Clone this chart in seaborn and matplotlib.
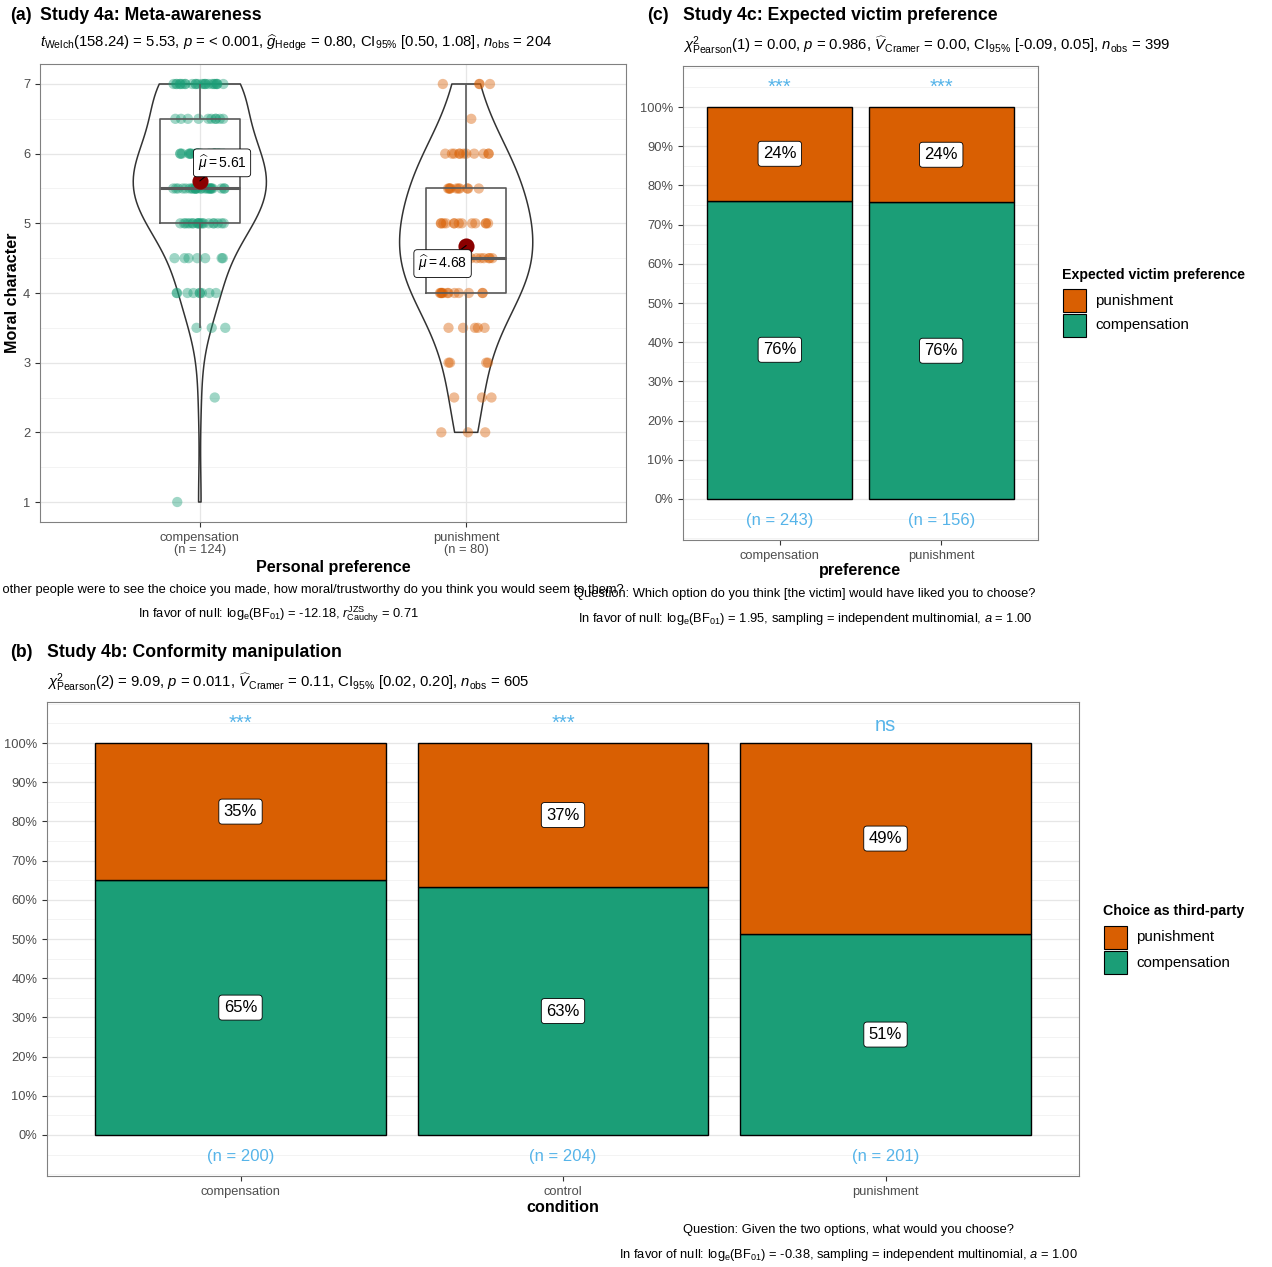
import numpy as np
import pandas as pd
import seaborn as sns
import matplotlib.pyplot as plt
from matplotlib.patches import Rectangle
from matplotlib.ticker import PercentFormatter, MultipleLocator

# ---------------- data ----------------
# Study 4a: moral character rating by personal preference
pref_levels = ["compensation", "punishment"]
score_levels = [1, 1.5, 2, 2.5, 3, 3.5, 4, 4.5, 5, 5.5, 6, 6.5, 7]
comp_counts = [1, 0, 0, 1, 0, 3, 9, 7, 20, 26, 23, 10, 24]
pun_counts = [0, 0, 3, 3, 4, 5, 12, 14, 13, 10, 11, 1, 4]

# Study 4c: expected victim preference by own preference
victim_x_levels = ["compensation", "punishment"]
victim_comp = [185, 118]
victim_pun = [58, 38]
victim_sig = ["***", "***"]

# Study 4b: third-party choice by conformity condition
cond_levels = ["compensation", "control", "punishment"]
choice_comp = [130, 129, 103]
choice_pun = [70, 75, 98]
cond_sig = ["***", "***", "ns"]

COL_COMP = "#1B9E77"
COL_PUN = "#D95F02"
COL_N = "#56B4E9"

# ---------------- style ----------------
sns.set_theme(style="white")
plt.rcParams["font.family"] = ["Liberation Sans", "DejaVu Sans"]
plt.rcParams["text.color"] = "black"
plt.rcParams["mathtext.fontset"] = "custom"
plt.rcParams["mathtext.rm"] = "Liberation Sans"
plt.rcParams["mathtext.it"] = "Liberation Sans:italic"
plt.rcParams["mathtext.bf"] = "Liberation Sans:bold"
plt.rcParams["mathtext.sf"] = "Liberation Sans"

W, H = 1272, 1267
fig = plt.figure(figsize=(W / 100, H / 100), dpi=100)
fig.patch.set_facecolor("white")


def fx(x):
    return x / W


def fy(y):
    return 1 - y / H


def px_axes(left, top, right, bottom):
    return fig.add_axes([left / W, 1 - bottom / H, (right - left) / W, (bottom - top) / H])


def gg_frame(ax, minor_step):
    ax.set_facecolor("white")
    for s in ax.spines.values():
        s.set_visible(True)
        s.set_color("#808080")
        s.set_linewidth(0.8)
    ax.tick_params(which="major", colors="#333333", labelcolor="#4d4d4d",
                   labelsize=9.3, length=3.5, width=0.8, direction="out",
                   bottom=True, left=True)
    ax.yaxis.set_minor_locator(MultipleLocator(minor_step))
    ax.tick_params(which="minor", length=0)
    ax.set_axisbelow(True)
    ax.grid(False)
    ax.grid(which="major", axis="y", color="#e6e6e6", lw=0.9)
    ax.grid(which="minor", axis="y", color="#f1f1f1", lw=0.6)
    ax.set_xlabel("")
    ax.set_ylabel("")


def titles(tag, tag_x, title, title_x, y, subtitle, sub_y):
    fig.text(fx(tag_x), fy(y), tag, ha="left", va="center", fontsize=12.7, fontweight="bold")
    fig.text(fx(title_x), fy(y), title, ha="left", va="center", fontsize=12.7, fontweight="bold")
    fig.text(fx(title_x), fy(sub_y), subtitle, ha="left", va="center", fontsize=10.7)


def caption(cx, y1, line1, y2, line2):
    fig.text(fx(cx), fy(y1), line1, ha="center", va="center", fontsize=9.3)
    fig.text(fx(cx), fy(y2), line2, ha="center", va="center", fontsize=9.3)


# ---------------- (a) violin / box / points ----------------
df_a = pd.DataFrame({
    "pref": ["compensation"] * sum(comp_counts) + ["punishment"] * sum(pun_counts),
    "score": np.concatenate([np.repeat(score_levels, comp_counts),
                             np.repeat(score_levels, pun_counts)]),
})

ax_a = px_axes(40, 64, 626, 522)
np.random.seed(7)
sns.stripplot(data=df_a, x="pref", y="score", order=pref_levels, hue="pref",
              hue_order=pref_levels, palette={"compensation": COL_COMP, "punishment": COL_PUN},
              jitter=0.1, size=7.4, alpha=0.42, linewidth=0, legend=False, ax=ax_a, zorder=2)
sns.boxplot(data=df_a, x="pref", y="score", order=pref_levels, width=0.3, fill=False,
            color="#5a5a5a", showfliers=False, showcaps=False, linewidth=1.2,
            medianprops={"linewidth": 2.2}, ax=ax_a)
sns.violinplot(data=df_a, x="pref", y="score", order=pref_levels, cut=0, inner=None,
               fill=False, color="#333333", linewidth=1.1, density_norm="width",
               width=0.5, bw_adjust=1.2, ax=ax_a)

means = df_a.groupby("pref")["score"].mean().reindex(pref_levels)
ax_a.scatter(range(len(pref_levels)), means.values, s=135, color="#8B0000", zorder=6, linewidths=0)
label_offsets = [(16, 13), (-17, -13)]
for i, (m, off) in enumerate(zip(means.values, label_offsets)):
    ax_a.annotate(r"$\widehat{\mu}=$" + f"{m:.2f}", xy=(i, m), xytext=off,
                  textcoords="offset points", ha="center", va="center", fontsize=10,
                  bbox=dict(boxstyle="round,pad=0.3,rounding_size=0.25", fc="white", ec="black", lw=0.6),
                  arrowprops=dict(arrowstyle="-", color="black", lw=0.8, shrinkA=0, shrinkB=0),
                  zorder=7)

gg_frame(ax_a, 0.5)
ax_a.set_xlim(-0.6, 1.6)
ax_a.set_ylim(0.713, 7.287)
ax_a.set_yticks(range(1, 8))
ax_a.grid(which="major", axis="x", color="#e6e6e6", lw=0.9)
n_a = [sum(comp_counts), sum(pun_counts)]
ax_a.set_xticks(range(len(pref_levels)))
ax_a.set_xticklabels([f"{lv}\n(n = {n})" for lv, n in zip(pref_levels, n_a)], linespacing=1.0)

titles("(a)", 10, "Study 4a: Meta-awareness", 40, 15,
       r"$t_{\mathrm{Welch}}$(158.24) = 5.53, $p$ = < 0.001, $\widehat{g}_{\mathrm{Hedge}}$ = 0.80, "
       r"CI$_{95\%}$ [0.50, 1.08], $n_{\mathrm{obs}}$ = 204", 43)
fig.text(fx(333), fy(567), "Personal preference", ha="center", va="center", fontsize=11.6, fontweight="bold")
fig.text(fx(13), fy(293), "Moral character", ha="center", va="center", rotation=90,
         fontsize=11.6, fontweight="bold")
caption(278, 590, "Question: If other people were to see the choice you made, how moral/trustworthy "
        "do you think you would seem to them?",
        615, r"In favor of null: log$_{\mathrm{e}}$(BF$_{01}$) = -12.18, "
        r"$r_{\mathrm{Cauchy}}^{\mathrm{JZS}}$ = 0.71")


# ---------------- stacked proportion bars ----------------
def stacked_panel(ax, levels, comp, pun, sig):
    df = pd.DataFrame({
        "x": list(levels) * 2,
        "choice": ["punishment"] * len(levels) + ["compensation"] * len(levels),
        "count": list(pun) + list(comp),
    })
    sns.histplot(data=df, x="x", hue="choice", weights="count", multiple="fill",
                 discrete=True, shrink=0.9, hue_order=["punishment", "compensation"],
                 palette={"punishment": COL_PUN, "compensation": COL_COMP},
                 alpha=1, edgecolor="black", linewidth=1.0, legend=False, ax=ax)
    gg_frame(ax, 0.05)
    ax.set_xlim(-0.6, len(levels) - 0.4)
    ax.set_ylim(-0.1046, 1.1046)
    ax.set_yticks(np.arange(0, 1.01, 0.1))
    ax.yaxis.set_major_formatter(PercentFormatter(1, decimals=0))
    ax.set_xticks(range(len(levels)))
    ax.set_xticklabels(levels)
    box = dict(boxstyle="round,pad=0.3,rounding_size=0.2", fc="white", ec="black", lw=0.6)
    for i, (c, p, s) in enumerate(zip(comp, pun, sig)):
        n = c + p
        pc, pp = c / n, p / n
        ax.text(i, pc / 2, f"{round(100 * pc)}%", ha="center", va="center", fontsize=12, bbox=box)
        ax.text(i, pc + pp / 2, f"{round(100 * pp)}%", ha="center", va="center", fontsize=12, bbox=box)
        ax.text(i, -0.056, f"(n = {n})", ha="center", va="center", fontsize=12, color=COL_N)
        ax.text(i, 1.045 if s == "ns" else 1.051, s, ha="center", va="center",
                fontsize=14.5, color=COL_N)


def legend_block(title, x, y_title, key_top):
    # title, then two 23 px keys stacked with a small gap
    fig.text(fx(x), fy(y_title), title, ha="left", va="center", fontsize=10.2, fontweight="bold")
    entries = [("punishment", COL_PUN), ("compensation", COL_COMP)]
    for k, (lab, col) in enumerate(entries):
        top = key_top + k * 25
        fig.patches.append(Rectangle((fx(x + 1), fy(top + 23)), 23 / W, 23 / H,
                                     transform=fig.transFigure, facecolor=col,
                                     edgecolor="black", lw=0.8))
        fig.text(fx(x + 33), fy(top + 11.5), lab, ha="left", va="center", fontsize=10.9)


# (c) Study 4c
ax_c = px_axes(683, 66, 1038, 540)
stacked_panel(ax_c, victim_x_levels, victim_comp, victim_pun, victim_sig)
titles("(c)", 647, "Study 4c: Expected victim preference", 683, 15,
       r"$\chi^2_{\mathrm{Pearson}}$(1) = 0.00, $p$ = 0.986, $\widehat{V}_{\mathrm{Cramer}}$ = 0.00, "
       r"CI$_{95\%}$ [-0.09, 0.05], $n_{\mathrm{obs}}$ = 399", 45)
fig.text(fx(860), fy(571), "preference", ha="center", va="center", fontsize=11.6, fontweight="bold")
caption(805, 594, "Question: Which option do you think [the victim] would have liked you to choose?",
        619, r"In favor of null: log$_{\mathrm{e}}$(BF$_{01}$) = 1.95, sampling = independent multinomial, "
        r"$a$ = 1.00")
legend_block("Expected victim preference", 1062, 275, 289)

# (b) Study 4b
ax_b = px_axes(47, 702, 1079, 1176)
stacked_panel(ax_b, cond_levels, choice_comp, choice_pun, cond_sig)
titles("(b)", 10, "Study 4b: Conformity manipulation", 47, 652,
       r"$\chi^2_{\mathrm{Pearson}}$(2) = 9.09, $p$ = 0.011, $\widehat{V}_{\mathrm{Cramer}}$ = 0.11, "
       r"CI$_{95\%}$ [0.02, 0.20], $n_{\mathrm{obs}}$ = 605", 682)
fig.text(fx(563), fy(1208), "condition", ha="center", va="center", fontsize=11.6, fontweight="bold")
caption(848, 1230, "Question: Given the two options, what would you choose?",
        1255, r"In favor of null: log$_{\mathrm{e}}$(BF$_{01}$) = -0.38, sampling = independent multinomial, "
        r"$a$ = 1.00")
legend_block("Choice as third-party", 1103, 911, 926)

fig.savefig("out.png", dpi=100, facecolor="white")
